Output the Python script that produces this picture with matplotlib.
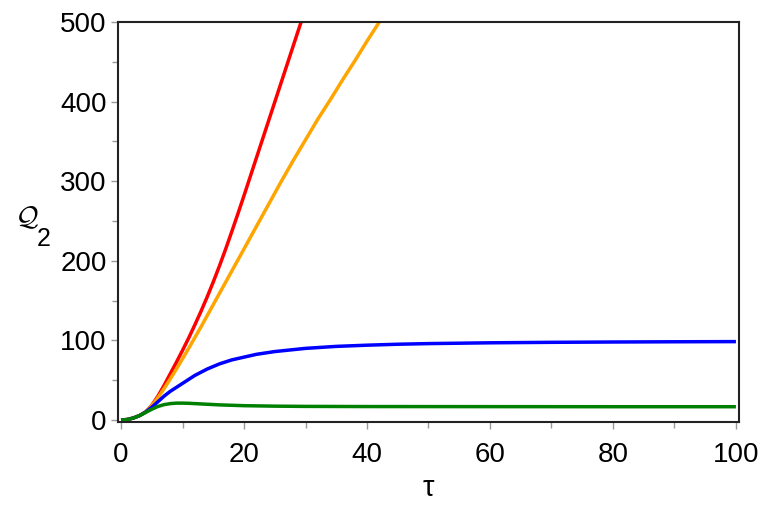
import numpy as np
import matplotlib
matplotlib.use("Agg")
import matplotlib.pyplot as plt
from matplotlib.ticker import MultipleLocator

# values
tau_red = [0, 1, 2, 3, 4, 5, 6, 7, 8, 9, 10, 11, 12, 13, 14, 15, 16, 17, 18, 19, 20, 22, 24, 26, 28, 30]
q_red = [0, 0.6, 2.5, 5.5, 10, 18.5, 30, 43.5, 58, 72.5, 87.5, 103, 119.5, 136.5, 154.5, 173.5, 193.5,
         214.5, 236.5, 259, 282, 329, 376, 423, 470, 517]

tau_orange = [0, 1, 2, 3, 4, 5, 6, 7, 8, 9, 10, 11, 12, 13, 14, 15, 16, 18, 20, 22, 24, 26, 28, 30,
              32, 34, 36, 38, 40, 42, 43]
q_orange = [0, 0.6, 2.5, 5.5, 10, 18, 28, 39.5, 51.5, 64, 77, 90, 103.5, 117, 131, 145, 159, 187, 215,
            243, 271, 299, 326, 352, 378, 402, 427, 451, 476, 500, 512]

tau_blue = [0, 1, 2, 3, 4, 5, 6, 7, 8, 9, 10, 12, 14, 16, 18, 20, 22, 25, 30, 35, 40, 45, 50, 60, 70,
            80, 90, 100]
q_blue = [0, 0.6, 2.5, 5.5, 10, 16, 23, 30, 36, 41, 46, 56, 64, 70.5, 75.5, 79, 82.5, 86, 90, 92.5, 94,
          95.2, 96, 97, 97.6, 98, 98.3, 98.5]

tau_green = [0, 1, 2, 3, 4, 5, 6, 7, 8, 9, 10, 11, 12, 14, 16, 18, 20, 25, 30, 40, 60, 80, 100]
q_green = [0, 0.6, 2.5, 5.5, 9.5, 13.5, 17, 19.3, 20.6, 21.2, 21.2, 21, 20.6, 19.8, 19, 18.5, 18, 17.4,
           17.1, 16.9, 16.8, 16.7, 16.7]

x_ticks = [0, 20, 40, 60, 80, 100]
y_ticks = [0, 100, 200, 300, 400, 500]

plt.rcParams["font.family"] = ["Liberation Sans", "DejaVu Sans"]
plt.rcParams["mathtext.fontset"] = "cm"

fig = plt.figure(figsize=(7.71, 5.13), dpi=100)
ax = fig.add_axes([0.153, 0.1774, 0.8055, 0.7796])

ax.plot(tau_red, q_red, color="#ff0000", lw=2.5, solid_capstyle="butt")
ax.plot(tau_orange, q_orange, color="#ffa500", lw=2.5, solid_capstyle="butt")
ax.plot(tau_blue, q_blue, color="#0000ff", lw=2.5, solid_capstyle="butt")
ax.plot(tau_green, q_green, color="#008000", lw=2.5, solid_capstyle="butt")

ax.set_xlim(-0.5, 100.5)
ax.set_ylim(-2.5, 500)
ax.set_xticks(x_ticks)
ax.set_yticks(y_ticks)
ax.xaxis.set_minor_locator(MultipleLocator(10))
ax.yaxis.set_minor_locator(MultipleLocator(50))
ax.tick_params(which="major", direction="out", length=5, width=1, color="#999999",
               labelsize=20, pad=3)
ax.tick_params(axis="x", which="major", pad=9.5)
ax.tick_params(which="minor", direction="out", length=4, width=1, color="#999999")
for sp in ax.spines.values():
    sp.set_linewidth(1.5)
    sp.set_color("#222222")

ax.set_xlabel("τ", fontsize=21, labelpad=4)
fig.text(0.019, 0.575, r"$\mathcal{Q}$", fontsize=20, ha="left", va="center")
fig.text(0.048, 0.535, "2", fontsize=18, ha="left", va="center")

fig.savefig("out.png", dpi=100)
